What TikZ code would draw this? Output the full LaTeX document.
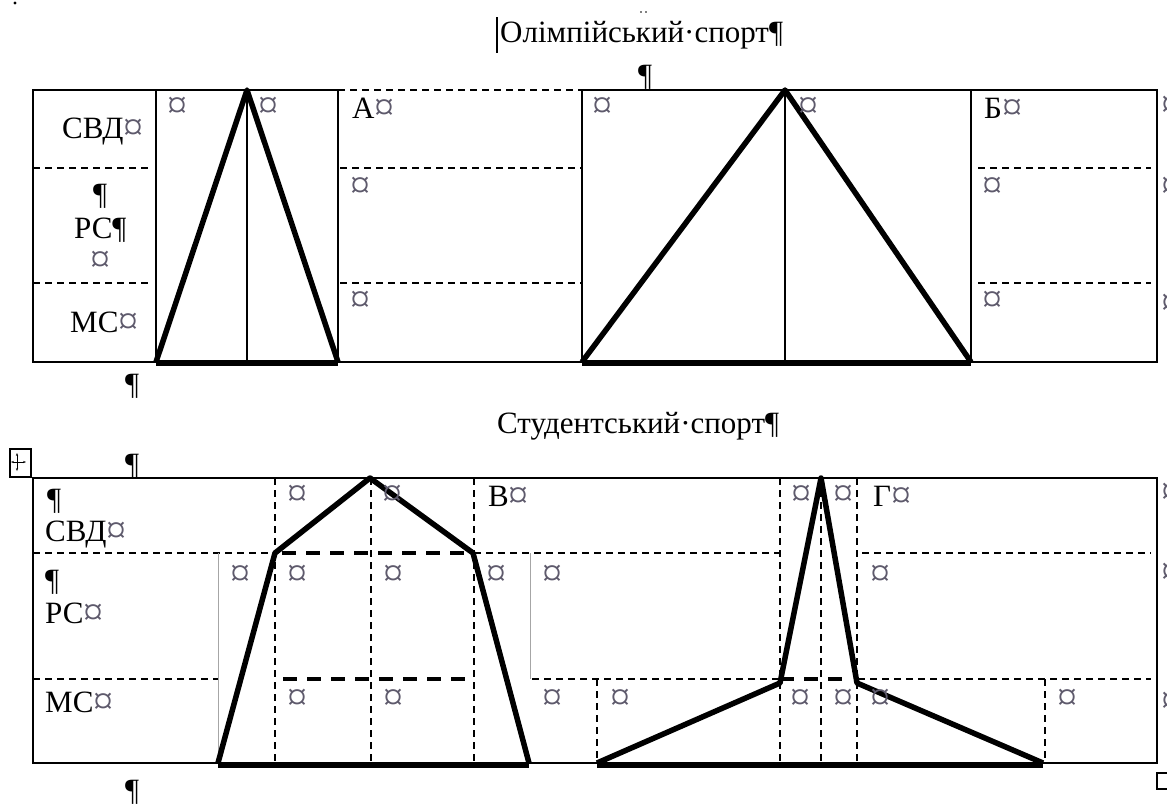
\documentclass[tikz,border=0pt]{standalone}
\usepackage{fontspec}
\setmainfont{Liberation Serif}
\usetikzlibrary{positioning, arrows.meta}
\definecolor{markgray}{HTML}{5E5A6C}
\newcommand{\cellmk}{{\color{markgray}\fontsize{40}{40}\selectfont\raisebox{-2pt}{¤}}}

\begin{document}
\begin{tikzpicture}[
      x=1pt, y=-1pt,
      every node/.style={font=\fontsize{31}{33}\selectfont, inner sep=0pt},
      txt/.style={anchor=base west},
      mk/.style={text=markgray, anchor=center, font=\fontsize{40}{40}\selectfont},
      grid/.style={line width=1.4pt},
      cell/.style={line width=1.3pt, dash pattern=on 7pt off 5pt},
      faint/.style={line width=1pt, black!35},
      fig/.style={line width=5.5pt, line join=round},
      figdash/.style={line width=4pt, dash pattern=on 14pt off 10pt},
      base/.style={line width=6pt},
    ]
    \useasboundingbox (0,0) rectangle (1167,804);

    % Olympic sport
    \fill (15,3) circle (1.6);
    \fill (641,12) circle (0.8); \fill (646,12) circle (0.8);
    \draw[line width=2.5pt] (497,17) -- (497,53);
    \node[txt] (olymp) at (500,42) {Олімпійський·спорт¶};
    \node[txt] (par1) at (638,85) {¶};

    \draw[grid] (338,90) -- (33,90) -- (33,362) -- (1157,362) -- (1157,90) -- (582,90);
    \draw[cell] (338,90) -- (582,90);
    \foreach \x in {156,247,338,582,785,971}
      \draw[grid] (\x,90) -- (\x,362);
    \foreach \y in {168,283} {
      \draw[cell] (33,\y) -- (150,\y);
      \draw[cell] (340,\y) -- (582,\y);
      \draw[cell] (978,\y) -- (1151,\y);
    }
    \draw[fig] (156,362) -- (247,90) -- (338,362);
    \draw[base] (156,363) -- (338,363);
    \draw[fig] (582,362) -- (785,90) -- (971,362);
    \draw[base] (582,363) -- (971,363);

    \node[txt] (svdA) at (62,138) {СВД\cellmk};
    \node[txt] (parA) at (93,204) {¶};
    \node[txt] (rsA) at (74,238) {РС¶};
    \node[txt] (msA) at (70,332) {МС\cellmk};
    \node[txt] (lblA) at (352,118) {А\cellmk};
    \node[txt] (lblB) at (984,118) {Б\cellmk};
    \foreach \x/\y [count=\i] in {100/262,177/108,268/108,360/188,360/302,602/108,808/108,
        992/188,992/302,1171/107,1171/188,1171/305}
      \node[mk] (mo\i) at (\x,\y) {¤};

    \node[txt] (par2) at (125,394) {¶};

    % Student sport
    \node[txt] (stud) at (497,433) {Студентський·спорт¶};
    \node[txt] (par3) at (125,474) {¶};
    \draw[line width=1.2pt] (10,449) rectangle (31,477);
    \draw[line width=1pt, {Stealth[length=3pt]}-{Stealth[length=3pt]}] (17,453) -- (17,471);
    \draw[line width=1pt, {Stealth[length=3pt]}-{Stealth[length=3pt]}] (11,462) -- (26,462);

    \draw[grid] (33,478) rectangle (1157,763);
    \draw[cell] (33,553) -- (275,553);
    \draw[cell] (474,553) -- (780,553);
    \draw[cell] (862,553) -- (1151,553);
    \draw[cell] (33,679) -- (218,679);
    \draw[cell] (532,679) -- (780,679);
    \draw[cell] (858,679) -- (1151,679);
    \foreach \x in {275,371,474,780,821,857}
      \draw[cell] (\x,478) -- (\x,763);
    \draw[cell] (597,679) -- (597,763);
    \draw[cell] (1045,679) -- (1045,763);
    \draw[faint] (218,553) -- (218,763);
    \draw[faint] (530,553) -- (530,679);

    \draw[figdash] (282,553) -- (472,553);
    \draw[figdash] (283,679) -- (475,679);
    \draw[figdash] (780,679) -- (850,679);
    \draw[fig] (218,763) -- (275,553) -- (370,478) -- (473,553) -- (529,763);
    \draw[base] (218,765) -- (529,765);
    \draw[fig] (597,763) -- (780,683) -- (821,478) -- (857,683) -- (1043,763);
    \draw[base] (597,765) -- (1043,765);

    \node[txt] (parB) at (47,509) {¶};
    \node[txt] (svdB) at (45,541) {СВД\cellmk};
    \node[txt] (parC) at (45,590) {¶};
    \node[txt] (rsB) at (45,623) {РС\cellmk};
    \node[txt] (msB) at (45,712) {МС\cellmk};
    \node[txt] (lblV) at (488,506) {В\cellmk};
    \node[txt] (lblG) at (873,506) {Г\cellmk};
    \foreach \x/\y [count=\i] in {297/496,392/496,801/496,843/496,1171/494,
        240/576,297/576,393/576,496/576,552/576,880/576,1171/574,
        297/700,393/700,552/700,620/700,800/700,843/700,880/700,1067/700,1171/703}
      \node[mk] (ms\i) at (\x,\y) {¤};

    \node[txt] (par4) at (125,800) {¶};
    \draw[line width=1.2pt] (1157,773) rectangle (1175,789);
  \end{tikzpicture}
\end{document}
